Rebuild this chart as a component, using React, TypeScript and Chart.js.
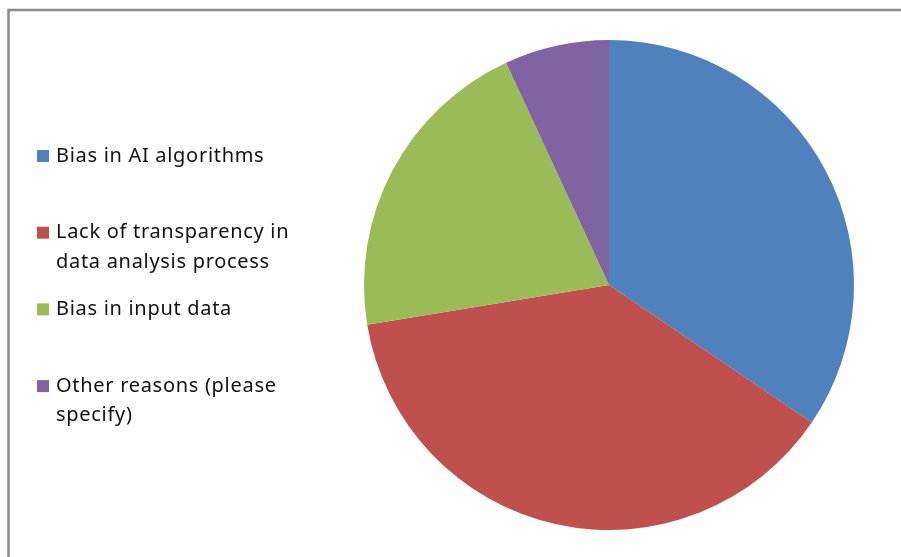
import React, { useEffect, useRef } from "react";
import { Chart, registerables } from "chart.js";

Chart.register(...registerables);

const categories = [
  "Bias in AI algorithms",
  "Lack of transparency in data analysis process",
  "Bias in input data",
  "Other reasons (please specify)",
];
const values = [10, 11, 6, 2];
const colors = ["#4F81BD", "#C0504D", "#9BBB59", "#8064A2"];

const FONT = '20px "Noto Sans", sans-serif';

const sideLegend = {
  id: "sideLegend",
  afterDraw(chart: any) {
    const ctx = chart.ctx;
    const labels: string[] = chart.data.labels;
    const bg: string[] = chart.data.datasets[0].backgroundColor;
    ctx.save();
    ctx.font = FONT;
    (ctx as any).letterSpacing = "0.7px";
    ctx.textBaseline = "middle";
    const maxW = 260;
    const startY = 156;
    const step = 76.7;
    const lineH = 29.5;
    labels.forEach((label, i) => {
      const words = label.split(" ");
      const lines: string[] = [];
      let cur = "";
      words.forEach((w) => {
        const test = cur ? cur + " " + w : w;
        if (ctx.measureText(test).width > maxW && cur) {
          lines.push(cur);
          cur = w;
        } else cur = test;
      });
      if (cur) lines.push(cur);
      const y = startY + i * step;
      ctx.fillStyle = bg[i];
      ctx.fillRect(37, y - 6, 12, 12);
      ctx.fillStyle = "#111";
      lines.forEach((ln, j) => ctx.fillText(ln, 56, y + j * lineH));
    });
    ctx.restore();
  },
};

const frame = {
  id: "frame",
  beforeDraw(chart: any) {
    const ctx = chart.ctx;
    ctx.save();
    ctx.fillStyle = "#fff";
    ctx.fillRect(0, 0, chart.width, chart.height);
    ctx.strokeStyle = "#8a8a8a";
    ctx.lineWidth = 2.5;
    ctx.strokeRect(8.5, 10, chart.width + 50, chart.height + 50);
    ctx.restore();
  },
};

export default function App() {
  const ref = useRef<HTMLCanvasElement>(null);
  useEffect(() => {
    const chart = new Chart(ref.current!, {
      type: "pie",
      data: {
        labels: categories,
        datasets: [
          {
            data: values,
            backgroundColor: colors,
            borderWidth: 0,
          },
        ],
      },
      options: {
        animation: false,
        responsive: false,
        layout: { padding: { top: 40, bottom: 27, left: 364, right: 47 } },
        plugins: {
          legend: { display: false },
          tooltip: { enabled: false },
        },
      },
      plugins: [frame, sideLegend],
    });
    return () => chart.destroy();
  }, []);
  return (
    <div style={{ position: "fixed", left: 0, top: 0, width: 901, height: 557 }}>
      <canvas ref={ref} width={901} height={557} />
    </div>
  );
}
